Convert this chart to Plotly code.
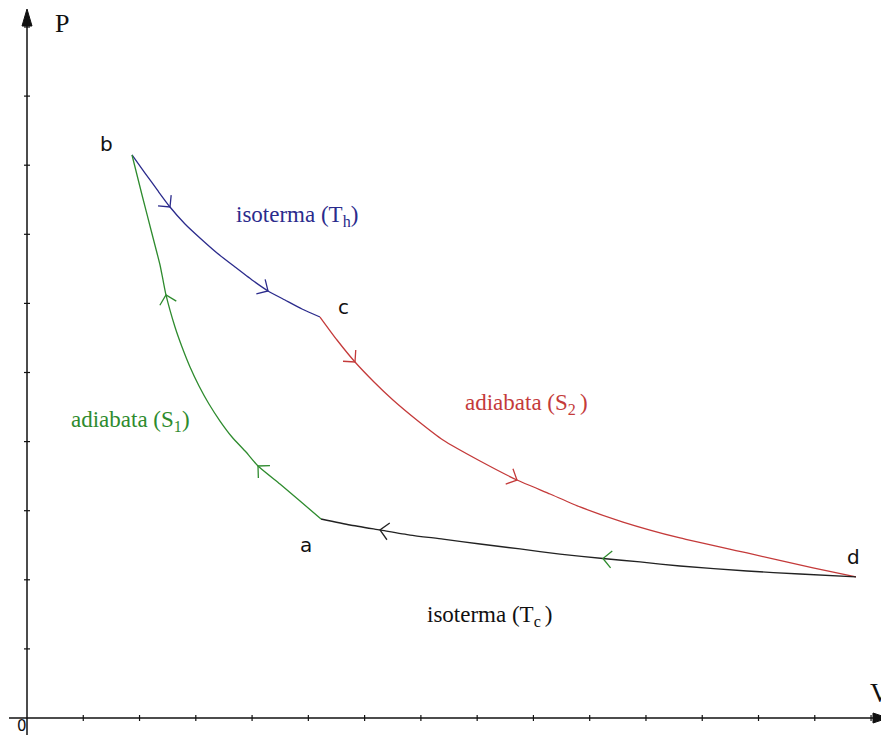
import plotly.graph_objects as go
import numpy as np

# ---- data (in axis tick units: V along x, P along y) ----
iso_h_V = [1.866, 2.097, 2.328, 2.541, 2.808, 3.074, 3.377, 3.696, 3.999, 4.283, 4.585, 4.887, 5.207]
iso_h_P = [8.148, 7.887, 7.627, 7.395, 7.149, 6.946, 6.729, 6.527, 6.339, 6.180, 6.049, 5.919, 5.803]

adi2_V = [5.207, 5.509, 5.829, 6.167, 6.504, 6.949, 7.393, 8.051, 8.708, 9.295, 9.828,
          10.592, 11.605, 12.796, 13.968, 14.732]
adi2_P = [5.803, 5.470, 5.152, 4.863, 4.602, 4.298, 4.023, 3.719, 3.444, 3.242, 3.054,
          2.836, 2.605, 2.388, 2.171, 2.041]

iso_c_V = [14.732, 13.737, 12.796, 11.605, 10.894, 10.236, 9.472, 8.761, 8.051, 7.393,
           6.807, 6.273, 5.740, 5.225]
iso_c_P = [2.041, 2.084, 2.127, 2.200, 2.258, 2.308, 2.373, 2.446, 2.518, 2.590,
           2.648, 2.721, 2.793, 2.880]

adi1_V = [5.225, 4.852, 4.496, 4.105, 3.892, 3.643, 3.430, 3.234, 3.057, 2.897, 2.755,
          2.630, 2.470, 2.417, 2.364, 2.204, 2.044, 1.866]
adi1_P = [2.880, 3.140, 3.386, 3.647, 3.849, 4.067, 4.298, 4.544, 4.805, 5.080, 5.369,
          5.658, 6.122, 6.339, 6.556, 7.062, 7.569, 8.148]

x_ticks = list(range(1, 16))
y_ticks = list(range(1, 11))

BLUE = "#2b2b8c"
RED = "#c43a3a"
GREEN = "#2e8b2e"
BLACK = "#222222"

# page body has an 8px margin: figure is placed at (8, 8) in the window
OFF = 8
W, H = 889 - OFF, 735 - OFF
SX, SY = 56.27, 69.1          # px per unit
X0, Y0 = 27 - OFF, 718 - OFF  # origin inside the figure
xr = [-X0 / SX, (W - X0) / SX]
yr = [-(H - Y0) / SY, Y0 / SY]

def px(x):  # window pixel -> data x
    return (x - 27) / SX

def py(y):  # window pixel -> data y
    return (718 - y) / SY

fig = go.Figure()

def add_curve(V, P, color):
    fig.add_trace(go.Scatter(x=V, y=P, mode="lines",
                             line=dict(color=color, width=1.3, shape="spline", smoothing=0.5),
                             hoverinfo="skip", showlegend=False))

def add_chevron(V, P, i, color, L=12.0):
    i0, i1 = max(i - 1, 0), min(i + 1, len(V) - 1)
    dx = (V[i1] - V[i0]) * SX
    dy = (P[i1] - P[i0]) * SY
    n = np.hypot(dx, dy)
    bx, by = -dx / n, -dy / n
    xs, ys = [], []
    for ang in (np.pi / 4, -np.pi / 4):
        ax = bx * np.cos(ang) - by * np.sin(ang)
        ay = bx * np.sin(ang) + by * np.cos(ang)
        xs.append(V[i] + L * ax / SX)
        ys.append(P[i] + L * ay / SY)
    fig.add_trace(go.Scatter(x=[xs[0], V[i], xs[1]], y=[ys[0], P[i], ys[1]],
                             mode="lines", line=dict(color=color, width=1.3),
                             hoverinfo="skip", showlegend=False))

add_curve(iso_h_V, iso_h_P, BLUE)
add_curve(adi2_V, adi2_P, RED)
add_curve(iso_c_V, iso_c_P, BLACK)
add_curve(adi1_V, adi1_P, GREEN)

add_chevron(iso_h_V, iso_h_P, 3, BLUE)
add_chevron(iso_h_V, iso_h_P, 9, BLUE)
add_chevron(adi2_V, adi2_P, 2, RED)
add_chevron(adi2_V, adi2_P, 8, RED)
add_chevron(iso_c_V, iso_c_P, 5, GREEN)
add_chevron(iso_c_V, iso_c_P, 11, BLACK)
add_chevron(adi1_V, adi1_P, 3, GREEN)
add_chevron(adi1_V, adi1_P, 12, GREEN)

AX = "#111111"
shapes = []
shapes.append(dict(type="line", xref="x", yref="y", x0=px(9), x1=px(876), y0=0, y1=0,
                   line=dict(color=AX, width=1.5)))
shapes.append(dict(type="line", xref="x", yref="y", x0=0, x1=0, y0=yr[0], y1=py(22),
                   line=dict(color=AX, width=1.5)))
for t in x_ticks:
    shapes.append(dict(type="line", xref="x", yref="y", x0=t, x1=t, y0=-3 / SY, y1=3 / SY,
                       line=dict(color=AX, width=1.2)))
for t in y_ticks:
    shapes.append(dict(type="line", xref="x", yref="y", x0=-3 / SX, x1=3 / SX, y0=t, y1=t,
                       line=dict(color=AX, width=1.2)))

# axis arrowheads
fig.add_trace(go.Scatter(x=[-5 / SX, 5 / SX, 0, -5 / SX], y=[py(26), py(26), py(9), py(26)],
                         mode="lines", fill="toself", fillcolor=AX, line=dict(color=AX, width=1),
                         hoverinfo="skip", showlegend=False))
fig.add_trace(go.Scatter(x=[px(873), px(873), px(888), px(873)], y=[5 / SY, -5 / SY, 0, 5 / SY],
                         mode="lines", fill="toself", fillcolor=AX, line=dict(color=AX, width=1),
                         hoverinfo="skip", showlegend=False))

SERIF = "Liberation Serif"
SANS = "DejaVu Sans"
ann = []
def label(x, y, text, color, family, size, yanchor="middle"):
    ann.append(dict(x=px(x), y=py(y), xref="x", yref="y", text=text, showarrow=False,
                    font=dict(family=family, size=size, color=color),
                    xanchor="center", yanchor=yanchor, borderpad=0))

label(62, 8, "P", AX, SERIF, 26, yanchor="top")
label(880, 693, "V", AX, SERIF, 27)
label(22, 726, "0", AX, SANS, 15)
label(106, 144, "b", AX, SANS, 20)
label(343, 307, "c", AX, SANS, 20)
label(306, 545, "a", AX, SANS, 20)
label(853, 557, "d", AX, SANS, 20)
label(297, 216, "isoterma (T<sub>h</sub>)", BLUE, SERIF, 23)
label(526, 404, "adiabata (S<sub>2 </sub>)", RED, SERIF, 23)
label(130, 421, "adiabata (S<sub>1</sub>)", GREEN, SERIF, 23)
label(490, 616, "isoterma (T<sub>c </sub>)", AX, SERIF, 23)

fig.update_layout(width=W, height=H, margin=dict(l=0, r=0, t=0, b=0),
                  paper_bgcolor="white", plot_bgcolor="white",
                  xaxis=dict(range=xr, visible=False, fixedrange=True),
                  yaxis=dict(range=yr, visible=False, fixedrange=True),
                  shapes=shapes, annotations=ann, showlegend=False)

fig.write_html("out.html")
